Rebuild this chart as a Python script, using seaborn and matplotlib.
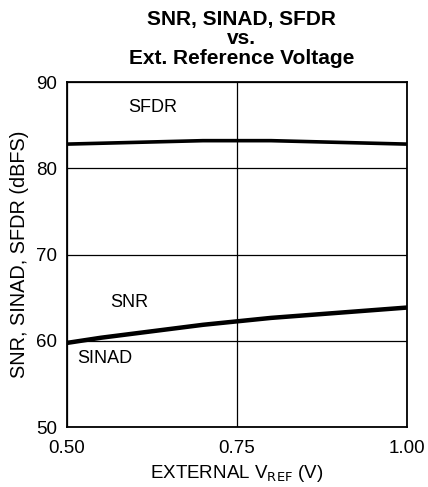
import matplotlib
matplotlib.use("Agg")
import matplotlib.pyplot as plt
import seaborn as sns
import pandas as pd

# valores
vref = [0.50, 0.55, 0.60, 0.65, 0.70, 0.75, 0.80, 0.85, 0.90, 0.95, 1.00]
sfdr = [82.8, 82.9, 83.0, 83.1, 83.2, 83.2, 83.2, 83.1, 83.0, 82.9, 82.8]
snr = [59.8, 60.4, 60.9, 61.4, 61.9, 62.3, 62.7, 63.0, 63.3, 63.6, 63.9]
sinad = [59.7, 60.3, 60.8, 61.3, 61.8, 62.2, 62.6, 62.9, 63.2, 63.5, 63.8]

df = pd.DataFrame({"vref": vref, "SFDR": sfdr, "SNR": snr, "SINAD": sinad})

sns.set_theme(style="white")
plt.rcParams["font.family"] = ["Liberation Sans", "DejaVu Sans"]
plt.rcParams["text.color"] = "black"
plt.rcParams["axes.labelcolor"] = "black"

fig = plt.figure(figsize=(4.28, 4.87), dpi=100)
ax = fig.add_axes([0.1565, 0.1232, 0.7945, 0.7084])

for col in ["SFDR", "SNR", "SINAD"]:
    sns.lineplot(data=df, x="vref", y=col, ax=ax, color="black", linewidth=2.6)

ax.set_xlim(0.5, 1.0)
ax.set_ylim(50, 90)
ax.set_xticks([0.50, 0.75, 1.00])
ax.set_xticklabels(["0.50", "0.75", "1.00"])
ax.set_yticks([50, 60, 70, 80, 90])
ax.grid(True, color="black", linewidth=0.9)
ax.tick_params(axis="both", labelsize=13.5, length=0, colors="black")
ax.tick_params(axis="x", pad=9)
ax.tick_params(axis="y", pad=7)
for s in ax.spines.values():
    s.set_color("black")
    s.set_linewidth(1.3)

ax.text(0.59, 87.1, "SFDR", fontsize=13, va="center")
ax.text(0.563, 64.4, "SNR", fontsize=13, va="center")
ax.text(0.515, 57.9, "SINAD", fontsize=13, va="center")

ax.set_xlabel("EXTERNAL V$_{\\mathrm{REF}}$ (V)", fontsize=13.5, labelpad=5)
ax.set_ylabel("SNR, SINAD, SFDR (dBFS)", fontsize=14.3, labelpad=5)

titulo = ["SNR, SINAD, SFDR", "vs.", "Ext. Reference Voltage"]
ys = [20, 39, 58]
for t, yp in zip(titulo, ys):
    fig.text(0.565, 1 - yp / 487, t, ha="center", va="center",
             fontsize=15, fontweight="bold")

fig.savefig("out.png", dpi=100)
